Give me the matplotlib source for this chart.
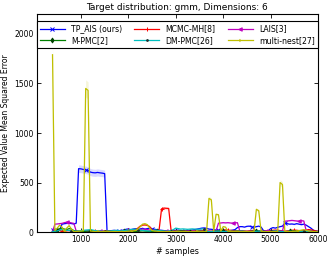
import matplotlib
matplotlib.use("Agg")
import matplotlib.pyplot as plt
import numpy as np

# sample counts (every 50 from 400 to 6000)
samples = np.arange(400, 6001, 50)

tp_ais = [18, 22, 25, 20, 80, 85, 88, 90, 86, 82,
          90, 640, 638, 632, 628, 622, 605, 600, 598, 602,
          598, 595, 590, 12, 10, 15, 18, 14, 12, 16,
          20, 28, 32, 25, 30, 35, 28, 32, 38, 30,
          35, 40, 32, 28, 25, 20, 18, 15, 12, 10,
          12, 15, 18, 20, 15, 12, 10, 14, 18, 20,
          25, 30, 35, 40, 42, 38, 30, 28, 25, 20,
          18, 15, 12, 10, 12, 15, 20, 25, 45, 55,
          55, 50, 58, 60, 52, 48, 55, 60, 50, 15,
          10, 12, 35, 45, 40, 48, 55, 60, 90, 85,
          80, 82, 78, 85, 80, 75, 80, 70, 55, 40,
          20, 10, 5]
mcmc_mh = [5, 8, 12, 15, 10, 8, 12, 15, 10, 8,
           6, 8, 10, 12, 10, 8, 10, 12, 8, 6,
           8, 10, 12, 10, 8, 10, 12, 10, 8, 10,
           12, 15, 18, 20, 22, 25, 40, 60, 70, 72,
           68, 55, 20, 15, 12, 30, 235, 242, 240, 238,
           20, 12, 10, 8, 10, 12, 10, 8, 10, 12,
           10, 8, 10, 12, 15, 12, 10, 8, 10, 12,
           15, 18, 20, 22, 20, 18, 15, 12, 10, 12,
           15, 12, 10, 12, 15, 18, 15, 12, 10, 8,
           10, 12, 15, 18, 20, 18, 15, 12, 10, 12,
           15, 18, 20, 18, 15, 12, 15, 20, 25, 22,
           18, 12, 8]
lais = [2, 80, 82, 85, 88, 95, 100, 98, 92, 88,
        10, 8, 6, 5, 8, 10, 6, 5, 8, 10,
        8, 6, 5, 8, 10, 12, 8, 6, 5, 8,
        10, 12, 8, 10, 15, 18, 20, 25, 30, 28,
        25, 20, 15, 12, 10, 8, 10, 12, 10, 8,
        6, 8, 10, 12, 10, 8, 6, 8, 10, 12,
        10, 8, 6, 5, 8, 10, 8, 6, 10, 12,
        90, 92, 95, 93, 95, 92, 90, 93, 95, 10,
        8, 6, 5, 8, 10, 12, 10, 8, 6, 5,
        6, 8, 10, 12, 15, 18, 12, 10, 110, 112,
        115, 118, 115, 112, 110, 115, 112, 15, 10, 8,
        6, 5, 4]
m_pmc = [5, 10, 20, 35, 40, 30, 25, 35, 30, 15,
         10, 8, 6, 5, 8, 10, 12, 10, 8, 6,
         5, 4, 6, 8, 10, 8, 6, 5, 4, 6,
         8, 10, 12, 10, 8, 6, 8, 10, 12, 10,
         8, 6, 5, 4, 6, 8, 10, 8, 6, 5,
         4, 6, 8, 10, 12, 10, 8, 6, 5, 4,
         6, 8, 10, 8, 6, 5, 4, 6, 8, 10,
         12, 10, 8, 6, 5, 4, 6, 8, 10, 8,
         6, 5, 4, 6, 8, 10, 12, 10, 8, 6,
         5, 4, 6, 8, 10, 8, 6, 5, 4, 6,
         8, 10, 12, 10, 8, 6, 5, 4, 6, 8,
         6, 5, 4]
dm_pmc = [5, 8, 12, 20, 25, 22, 18, 15, 12, 10,
          8, 10, 15, 18, 20, 22, 25, 20, 15, 12,
          10, 8, 6, 8, 10, 12, 15, 18, 15, 12,
          15, 18, 20, 25, 28, 30, 25, 20, 18, 15,
          12, 10, 15, 20, 18, 15, 12, 10, 8, 10,
          15, 25, 40, 35, 30, 32, 30, 28, 30, 32,
          30, 28, 30, 32, 30, 8, 6, 5, 6, 8,
          10, 8, 6, 5, 8, 10, 8, 6, 5, 8,
          10, 8, 6, 5, 4, 6, 8, 10, 8, 6,
          5, 4, 6, 8, 10, 8, 6, 5, 4, 6,
          8, 6, 5, 4, 6, 8, 10, 8, 6, 5,
          4, 5, 6]
multi_nest = [1790, 15, 40, 70, 50, 10, 40, 65, 30, 5,
              5, 8, 10, 12, 1450, 1430, 10, 8, 5, 6,
              5, 4, 6, 8, 5, 4, 6, 5, 4, 6,
              5, 6, 8, 10, 12, 15, 30, 55, 80, 85,
              75, 40, 15, 10, 8, 6, 5, 4, 5, 6,
              5, 4, 6, 8, 5, 4, 6, 5, 4, 6,
              5, 6, 8, 5, 4, 6, 340, 325, 8, 180,
              175, 10, 55, 50, 8, 6, 5, 4, 6, 5,
              4, 6, 5, 4, 6, 5, 230, 215, 6, 5,
              4, 6, 5, 4, 6, 5, 500, 480, 6, 5,
              4, 6, 8, 10, 15, 20, 25, 18, 10, 6,
              5, 4, 3]

series = [
    ("TP_AIS (ours)", tp_ais, "b", "x", "b", 0),
    ("MCMC-MH[8]", mcmc_mh, "r", "+", "r", 4),
    ("LAIS[3]", lais, "m", "<", "m", 6),
    ("M-PMC[2]", m_pmc, "g", "d", "#004000", 2),
    ("DM-PMC[26]", dm_pmc, "c", ".", "#203030", 8),
    ("multi-nest[27]", multi_nest, "y", "4", "y", 5),
]
band = 0.06  # half-width of the shaded spread, relative

fig = plt.figure(figsize=(3.33, 2.57), dpi=100)
ax = fig.add_axes([0.110, 0.097, 0.845, 0.848])

handles = {}
for label, vals, col, mk, mcol, off in series:
    v = np.array(vals, dtype=float)
    ax.fill_between(samples, v * (1 - band), v * (1 + band), color=col,
                    alpha=0.15, lw=0)
    h, = ax.plot(samples, v, color=col, lw=0.9, marker=mk, ms=2.5, mew=0.7,
                 mfc=mcol, mec=mcol, markevery=(off, 14), label=label)
    handles[label] = h

ax.set_xlim(65, 6000)
ax.set_ylim(0, 2200)
ax.set_xticks([1000, 2000, 3000, 4000, 5000, 6000])
ax.set_yticks([0, 500, 1000, 1500, 2000])
ax.tick_params(direction="in", top=True, right=True, labelsize=5.5,
               length=3, width=0.6, pad=2)
for s in ax.spines.values():
    s.set_linewidth(0.8)

ax.set_title("Target distribution: gmm, Dimensions: 6", fontsize=6.5, pad=3)
ax.set_xlabel("# samples", fontsize=5.8, labelpad=2)
ax.set_ylabel("Expected Value Mean Squared Error", fontsize=5.5, labelpad=3)

# legend columns: TP_AIS/M-PMC, MCMC-MH/DM-PMC, LAIS/multi-nest
order = ["TP_AIS (ours)", "M-PMC[2]", "MCMC-MH[8]", "DM-PMC[26]",
         "LAIS[3]", "multi-nest[27]"]
leg = ax.legend([handles[k] for k in order], order, loc="upper center",
                ncol=3, fontsize=5.6, fancybox=False, edgecolor="k",
                framealpha=1, borderpad=0.4, handlelength=3.2,
                columnspacing=1.6, labelspacing=0.3, handletextpad=0.8,
                bbox_to_anchor=(0.5, 0.985))
leg.get_frame().set_linewidth(0.8)

fig.savefig("out.png", dpi=100)
